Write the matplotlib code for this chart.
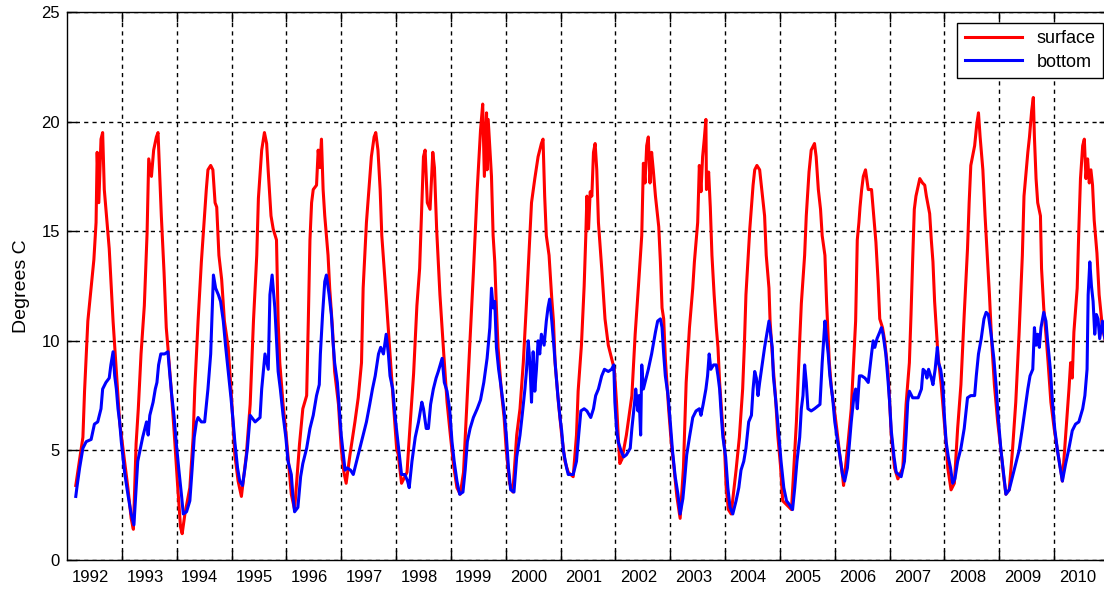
import matplotlib
matplotlib.use("Agg")
import matplotlib.pyplot as plt
from matplotlib.ticker import FixedLocator, NullFormatter

# surface temperature (decimal year, deg C)
surface_t = [
    1992.16, 1992.29, 1992.32, 1992.38, 1992.44, 1992.49, 1992.53, 1992.55, 1992.58, 1992.62,
    1992.65, 1992.68, 1992.73, 1992.77, 1992.80, 1992.84, 1992.90, 1992.96, 1993.02, 1993.11,
    1993.17, 1993.21, 1993.26, 1993.30, 1993.35, 1993.41, 1993.46, 1993.49, 1993.54, 1993.58,
    1993.63, 1993.66, 1993.72, 1993.77, 1993.81, 1993.84, 1993.90, 1993.96, 1994.02, 1994.07,
    1994.10, 1994.15, 1994.24, 1994.30, 1994.33, 1994.39, 1994.45, 1994.50, 1994.54, 1994.57,
    1994.62, 1994.66, 1994.70, 1994.73, 1994.77, 1994.82, 1994.87, 1994.94, 1995.00, 1995.06,
    1995.12, 1995.18, 1995.27, 1995.34, 1995.40, 1995.46, 1995.49, 1995.55, 1995.60, 1995.64,
    1995.67, 1995.72, 1995.76, 1995.82, 1995.85, 1995.88, 1995.94, 1996.00, 1996.06, 1996.09,
    1996.15, 1996.24, 1996.30, 1996.37, 1996.40, 1996.43, 1996.46, 1996.49, 1996.55, 1996.58,
    1996.61, 1996.64, 1996.67, 1996.70, 1996.76, 1996.79, 1996.84, 1996.88, 1996.95, 1997.00,
    1997.05, 1997.09, 1997.16, 1997.25, 1997.31, 1997.37, 1997.40, 1997.46, 1997.51, 1997.55,
    1997.60, 1997.63, 1997.67, 1997.71, 1997.74, 1997.80, 1997.84, 1997.89, 1997.95, 1998.01,
    1998.04, 1998.10, 1998.20, 1998.26, 1998.32, 1998.38, 1998.43, 1998.47, 1998.50, 1998.53,
    1998.57, 1998.62, 1998.67, 1998.70, 1998.74, 1998.80, 1998.87, 1998.93, 1998.99, 1999.05,
    1999.11, 1999.17, 1999.23, 1999.29, 1999.35, 1999.41, 1999.48, 1999.54, 1999.58, 1999.61,
    1999.65, 1999.66, 1999.68, 1999.74, 1999.77, 1999.80, 1999.83, 1999.86, 1999.92, 1999.97,
    2000.01, 2000.07, 2000.13, 2000.20, 2000.26, 2000.32, 2000.38, 2000.41, 2000.47, 2000.53,
    2000.59, 2000.65, 2000.68, 2000.71, 2000.74, 2000.79, 2000.84, 2000.87, 2000.90, 2000.96,
    2001.02, 2001.08, 2001.14, 2001.23, 2001.29, 2001.32, 2001.38, 2001.43, 2001.46, 2001.48,
    2001.51, 2001.54, 2001.57, 2001.60, 2001.63, 2001.66, 2001.69, 2001.75, 2001.81, 2001.87,
    2001.93, 2001.98, 2002.02, 2002.05, 2002.08, 2002.12, 2002.20, 2002.30, 2002.36, 2002.42,
    2002.48, 2002.51, 2002.54, 2002.57, 2002.60, 2002.63, 2002.66, 2002.69, 2002.73, 2002.79,
    2002.82, 2002.85, 2002.88, 2002.91, 2002.97, 2003.02, 2003.06, 2003.12, 2003.18, 2003.24,
    2003.29, 2003.35, 2003.41, 2003.44, 2003.50, 2003.53, 2003.56, 2003.59, 2003.62, 2003.65,
    2003.66, 2003.70, 2003.73, 2003.76, 2003.80, 2003.84, 2003.87, 2003.90, 2003.95, 2003.99,
    2004.02, 2004.06, 2004.11, 2004.20, 2004.26, 2004.32, 2004.35, 2004.38, 2004.45, 2004.48,
    2004.51, 2004.54, 2004.58, 2004.63, 2004.66, 2004.72, 2004.75, 2004.80, 2004.82, 2004.87,
    2004.92, 2004.96, 2005.01, 2005.05, 2005.13, 2005.21, 2005.24, 2005.30, 2005.36, 2005.39,
    2005.45, 2005.48, 2005.53, 2005.57, 2005.63, 2005.66, 2005.70, 2005.74, 2005.77, 2005.82,
    2005.85, 2005.90, 2005.94, 2005.98, 2006.04, 2006.09, 2006.14, 2006.16, 2006.24, 2006.30,
    2006.35, 2006.38, 2006.41, 2006.44, 2006.46, 2006.49, 2006.52, 2006.56, 2006.61, 2006.67,
    2006.71, 2006.75, 2006.79, 2006.82, 2006.87, 2006.91, 2006.97, 2007.00, 2007.03, 2007.09,
    2007.15, 2007.24, 2007.30, 2007.36, 2007.39, 2007.42, 2007.45, 2007.48, 2007.55, 2007.60,
    2007.64, 2007.67, 2007.73, 2007.76, 2007.79, 2007.82, 2007.85, 2007.88, 2007.94, 2007.99,
    2008.03, 2008.06, 2008.12, 2008.18, 2008.24, 2008.30, 2008.36, 2008.42, 2008.45, 2008.48,
    2008.55, 2008.59, 2008.62, 2008.65, 2008.70, 2008.74, 2008.78, 2008.82, 2008.86, 2008.91,
    2008.97, 2009.03, 2009.08, 2009.12, 2009.18, 2009.24, 2009.30, 2009.36, 2009.42, 2009.45,
    2009.52, 2009.55, 2009.59, 2009.62, 2009.64, 2009.67, 2009.70, 2009.75, 2009.77, 2009.81,
    2009.85, 2009.89, 2009.94, 2010.00, 2010.06, 2010.12, 2010.15, 2010.21, 2010.27, 2010.30,
    2010.33, 2010.36, 2010.42, 2010.45, 2010.48, 2010.52, 2010.55, 2010.58, 2010.61, 2010.64,
    2010.67, 2010.70, 2010.73, 2010.78, 2010.82, 2010.88, 2010.95,
]
surface_deg = [
    3.4, 5.6, 7.7, 10.9, 12.4, 13.7, 15.4, 18.6, 16.3, 19.2,
    19.5, 16.9, 15.4, 14.2, 12.8, 10.9, 8.6, 6.3, 5.1, 3.3,
    1.9, 1.4, 5.3, 6.9, 9.4, 11.6, 14.9, 18.3, 17.5, 18.7,
    19.3, 19.5, 15.7, 13.1, 10.6, 9.7, 7.8, 5.6, 3.3, 1.5,
    1.2, 2.1, 3.3, 5.6, 7.8, 10.9, 13.6, 15.4, 16.9, 17.8,
    18.0, 17.8, 16.3, 16.1, 13.9, 12.8, 10.9, 9.7, 7.4, 4.8,
    3.6, 2.9, 4.8, 7.1, 10.9, 13.9, 16.5, 18.7, 19.5, 19.0,
    17.7, 15.7, 15.1, 14.6, 10.9, 9.0, 7.1, 5.6, 3.9, 3.0,
    2.3, 5.3, 6.9, 7.5, 10.9, 14.6, 16.3, 16.9, 17.1, 18.7,
    17.9, 19.2, 16.9, 15.7, 13.9, 12.4, 10.6, 8.6, 7.1, 5.1,
    4.0, 3.5, 4.8, 6.3, 7.4, 9.0, 12.4, 15.4, 17.1, 18.4,
    19.3, 19.5, 18.7, 16.9, 14.8, 12.7, 11.2, 9.4, 7.2, 5.1,
    4.8, 3.5, 4.0, 6.3, 8.5, 11.6, 13.3, 16.3, 18.4, 18.7,
    16.3, 16.0, 18.6, 17.9, 15.1, 12.1, 9.4, 7.2, 5.7, 4.3,
    3.3, 3.0, 4.0, 7.1, 10.1, 13.1, 16.9, 19.6, 20.8, 17.5,
    20.4, 17.8, 20.1, 17.5, 14.8, 13.6, 11.5, 9.7, 7.7, 6.5,
    5.0, 3.5, 3.1, 5.7, 6.9, 9.0, 11.8, 13.3, 16.3, 17.4,
    18.4, 19.0, 19.2, 16.6, 14.8, 13.9, 11.9, 10.9, 9.0, 7.2,
    5.7, 4.5, 4.0, 3.8, 5.7, 7.7, 9.8, 12.5, 14.8, 16.6,
    15.1, 16.8, 16.6, 18.6, 19.0, 17.8, 15.4, 13.3, 11.0, 9.8,
    9.2, 8.7, 7.2, 5.7, 4.4, 4.6, 5.7, 7.5, 10.3, 12.5,
    14.8, 18.1, 17.2, 18.9, 19.3, 17.2, 18.6, 17.8, 16.6, 15.2,
    13.6, 11.5, 11.0, 9.2, 6.9, 5.3, 4.4, 2.9, 1.9, 4.2,
    8.1, 10.6, 12.4, 13.6, 15.4, 18.0, 16.8, 18.4, 19.2, 20.1,
    16.9, 17.7, 16.1, 13.9, 12.1, 10.6, 9.7, 8.1, 6.3, 5.1,
    3.3, 2.3, 2.1, 4.1, 5.6, 7.8, 9.7, 12.1, 15.1, 16.1,
    17.1, 17.8, 18.0, 17.8, 17.1, 15.7, 13.9, 12.4, 10.9, 9.0,
    7.4, 5.7, 4.3, 2.7, 2.5, 2.3, 3.6, 6.3, 10.0, 11.7,
    13.9, 15.7, 17.7, 18.7, 19.0, 18.4, 16.9, 16.0, 14.8, 13.9,
    11.8, 9.0, 7.8, 7.1, 5.9, 4.8, 3.9, 3.4, 5.3, 6.9,
    9.4, 10.9, 14.6, 15.4, 16.1, 16.9, 17.5, 17.8, 16.9, 16.9,
    15.7, 14.5, 12.7, 11.0, 10.6, 10.0, 8.6, 7.2, 5.7, 4.2,
    3.7, 4.2, 7.1, 9.0, 11.2, 13.7, 16.0, 16.6, 17.4, 17.2,
    17.1, 16.6, 15.8, 14.6, 13.6, 11.8, 10.6, 9.4, 8.0, 6.5,
    5.3, 4.2, 3.2, 3.5, 6.0, 8.0, 11.2, 14.2, 16.3, 18.0,
    18.9, 19.9, 20.4, 19.3, 17.8, 15.7, 13.9, 12.1, 10.0, 8.0,
    6.3, 5.0, 3.8, 3.0, 3.2, 5.0, 7.2, 10.3, 13.9, 16.6,
    18.6, 19.3, 20.5, 21.1, 19.3, 17.4, 16.3, 15.7, 13.3, 11.5,
    10.3, 9.0, 7.2, 6.0, 5.0, 4.1, 3.6, 5.7, 7.8, 9.0,
    8.3, 10.4, 12.4, 15.1, 17.4, 18.9, 19.2, 17.4, 18.3, 17.2,
    17.8, 17.1, 15.5, 14.0, 12.1, 10.6, 9.8,
]

# bottom temperature
bottom_t = [
    1992.16, 1992.18, 1992.23, 1992.29, 1992.35, 1992.44, 1992.50, 1992.56, 1992.62, 1992.65,
    1992.71, 1992.77, 1992.80, 1992.84, 1992.87, 1992.90, 1992.93, 1992.96, 1992.99, 1993.05,
    1993.11, 1993.17, 1993.22, 1993.26, 1993.29, 1993.34, 1993.38, 1993.45, 1993.48, 1993.51,
    1993.57, 1993.61, 1993.64, 1993.67, 1993.71, 1993.78, 1993.84, 1993.87, 1993.91, 1993.95,
    1993.99, 1994.04, 1994.09, 1994.12, 1994.18, 1994.24, 1994.28, 1994.32, 1994.36, 1994.39,
    1994.45, 1994.51, 1994.57, 1994.62, 1994.65, 1994.67, 1994.71, 1994.76, 1994.80, 1994.85,
    1994.89, 1994.94, 1994.99, 1995.03, 1995.06, 1995.11, 1995.15, 1995.20, 1995.24, 1995.29,
    1995.34, 1995.43, 1995.52, 1995.55, 1995.61, 1995.67, 1995.70, 1995.74, 1995.79, 1995.82,
    1995.85, 1995.89, 1995.94, 1995.99, 1996.03, 1996.09, 1996.12, 1996.15, 1996.21, 1996.26,
    1996.30, 1996.37, 1996.43, 1996.49, 1996.55, 1996.60, 1996.62, 1996.66, 1996.70, 1996.73,
    1996.78, 1996.82, 1996.85, 1996.88, 1996.93, 1996.96, 1997.00, 1997.04, 1997.07, 1997.11,
    1997.17, 1997.22, 1997.28, 1997.34, 1997.40, 1997.46, 1997.52, 1997.57, 1997.62, 1997.68,
    1997.72, 1997.77, 1997.82, 1997.86, 1997.89, 1997.94, 1997.98, 1998.02, 1998.06, 1998.10,
    1998.16, 1998.21, 1998.24, 1998.29, 1998.35, 1998.41, 1998.47, 1998.50, 1998.55, 1998.59,
    1998.63, 1998.68, 1998.73, 1998.77, 1998.84, 1998.88, 1998.93, 1998.98, 1999.02, 1999.06,
    1999.11, 1999.16, 1999.22, 1999.26, 1999.30, 1999.35, 1999.41, 1999.48, 1999.54, 1999.60,
    1999.66, 1999.71, 1999.74, 1999.77, 1999.80, 1999.83, 1999.87, 1999.92, 1999.97, 2000.01,
    2000.05, 2000.09, 2000.15, 2000.20, 2000.26, 2000.30, 2000.35, 2000.38, 2000.41, 2000.44,
    2000.47, 2000.50, 2000.53, 2000.56, 2000.59, 2000.62, 2000.65, 2000.70, 2000.74, 2000.77,
    2000.80, 2000.84, 2000.87, 2000.91, 2000.95, 2000.99, 2001.02, 2001.05, 2001.11, 2001.14,
    2001.23, 2001.29, 2001.33, 2001.37, 2001.43, 2001.48, 2001.55, 2001.60, 2001.64, 2001.69,
    2001.75, 2001.80, 2001.87, 2001.93, 2001.97, 2001.99, 2002.02, 2002.05, 2002.10, 2002.15,
    2002.20, 2002.27, 2002.30, 2002.35, 2002.37, 2002.41, 2002.43, 2002.46, 2002.48, 2002.51,
    2002.54, 2002.60, 2002.66, 2002.73, 2002.77, 2002.82, 2002.85, 2002.88, 2002.91, 2002.96,
    2003.00, 2003.04, 2003.09, 2003.14, 2003.18, 2003.23, 2003.26, 2003.30, 2003.35, 2003.41,
    2003.47, 2003.53, 2003.56, 2003.60, 2003.65, 2003.68, 2003.71, 2003.74, 2003.79, 2003.84,
    2003.87, 2003.90, 2003.93, 2003.96, 2004.01, 2004.05, 2004.09, 2004.14, 2004.20, 2004.25,
    2004.29, 2004.34, 2004.38, 2004.43, 2004.48, 2004.51, 2004.54, 2004.57, 2004.60, 2004.63,
    2004.68, 2004.72, 2004.76, 2004.80, 2004.83, 2004.86, 2004.88, 2004.93, 2004.98, 2005.02,
    2005.07, 2005.12, 2005.18, 2005.23, 2005.27, 2005.31, 2005.36, 2005.39, 2005.42, 2005.45,
    2005.48, 2005.51, 2005.57, 2005.63, 2005.73, 2005.77, 2005.82, 2005.85, 2005.88, 2005.91,
    2005.96, 2006.00, 2006.04, 2006.09, 2006.14, 2006.18, 2006.23, 2006.26, 2006.30, 2006.35,
    2006.38, 2006.41, 2006.45, 2006.49, 2006.55, 2006.61, 2006.67, 2006.70, 2006.73, 2006.77,
    2006.82, 2006.85, 2006.88, 2006.93, 2006.97, 2007.00, 2007.03, 2007.08, 2007.12, 2007.21,
    2007.27, 2007.30, 2007.33, 2007.36, 2007.42, 2007.52, 2007.58, 2007.61, 2007.65, 2007.68,
    2007.71, 2007.76, 2007.79, 2007.83, 2007.87, 2007.89, 2007.93, 2007.97, 2008.00, 2008.03,
    2008.07, 2008.11, 2008.15, 2008.19, 2008.24, 2008.30, 2008.36, 2008.42, 2008.48, 2008.55,
    2008.58, 2008.62, 2008.67, 2008.72, 2008.76, 2008.80, 2008.85, 2008.90, 2008.94, 2008.98,
    2009.03, 2009.08, 2009.12, 2009.18, 2009.24, 2009.30, 2009.36, 2009.42, 2009.47, 2009.52,
    2009.56, 2009.61, 2009.64, 2009.67, 2009.70, 2009.73, 2009.76, 2009.81, 2009.85, 2009.88,
    2009.93, 2009.97, 2010.01, 2010.06, 2010.11, 2010.15, 2010.21, 2010.27, 2010.33, 2010.39,
    2010.45, 2010.52, 2010.56, 2010.60, 2010.62, 2010.65, 2010.68, 2010.71, 2010.74, 2010.77,
    2010.80, 2010.83, 2010.88, 2010.91, 2010.95,
]
bottom_deg = [
    2.9, 3.3, 4.2, 5.1, 5.4, 5.5, 6.2, 6.3, 6.9, 7.8,
    8.1, 8.3, 8.9, 9.5, 8.4, 7.8, 6.9, 6.3, 5.4, 4.0,
    3.0, 2.1, 1.6, 3.3, 4.5, 5.1, 5.6, 6.3, 5.7, 6.6,
    7.2, 7.8, 8.1, 8.9, 9.4, 9.4, 9.5, 8.6, 7.5, 6.6,
    5.4, 4.1, 2.9, 2.1, 2.2, 2.7, 4.1, 5.6, 6.3, 6.5,
    6.3, 6.3, 7.8, 9.4, 11.6, 13.0, 12.4, 12.1, 11.8, 10.9,
    9.8, 8.6, 7.4, 6.3, 5.4, 4.2, 3.6, 3.4, 4.1, 5.1,
    6.6, 6.3, 6.5, 7.8, 9.4, 8.7, 12.1, 13.0, 11.5, 10.0,
    8.6, 7.8, 6.6, 5.6, 4.5, 3.9, 2.9, 2.2, 2.4, 3.8,
    4.4, 5.1, 6.0, 6.6, 7.5, 8.0, 9.4, 11.2, 12.7, 13.0,
    12.1, 11.2, 10.0, 9.0, 8.1, 7.1, 5.7, 4.8, 4.1, 4.2,
    4.1, 3.9, 4.5, 5.1, 5.7, 6.3, 7.1, 7.8, 8.4, 9.4,
    9.7, 9.4, 10.3, 9.4, 8.4, 7.8, 6.6, 5.7, 4.8, 3.9,
    3.9, 3.6, 3.3, 4.5, 5.6, 6.3, 7.2, 6.9, 6.0, 6.0,
    7.1, 7.8, 8.3, 8.6, 9.2, 8.1, 7.7, 6.8, 5.4, 4.5,
    3.6, 3.0, 3.1, 4.1, 5.4, 6.0, 6.5, 6.9, 7.3, 8.1,
    9.2, 10.6, 12.4, 11.5, 11.8, 9.7, 8.7, 7.8, 6.8, 5.7,
    4.2, 3.2, 3.1, 4.7, 5.7, 6.6, 7.8, 8.7, 10.0, 9.0,
    7.2, 9.5, 7.7, 8.7, 10.0, 9.4, 10.3, 9.8, 10.9, 11.5,
    11.9, 10.9, 10.0, 8.7, 7.5, 6.5, 5.9, 5.0, 4.2, 3.9,
    3.9, 4.5, 5.7, 6.8, 6.9, 6.8, 6.5, 6.9, 7.5, 7.8,
    8.4, 8.7, 8.6, 8.7, 8.9, 7.2, 6.0, 5.4, 5.0, 4.7,
    4.8, 5.1, 6.0, 7.2, 7.8, 6.8, 7.5, 5.7, 8.9, 7.8,
    8.1, 8.7, 9.4, 10.4, 10.9, 11.0, 10.6, 9.4, 8.4, 7.5,
    6.3, 5.0, 3.8, 3.0, 2.1, 2.8, 3.6, 4.8, 5.6, 6.5,
    6.8, 6.9, 6.6, 7.1, 7.8, 8.4, 9.4, 8.7, 8.9, 8.9,
    8.4, 7.8, 6.6, 5.6, 4.7, 3.3, 2.4, 2.1, 2.7, 3.3,
    4.1, 4.5, 5.1, 6.3, 6.6, 7.8, 8.6, 8.3, 7.5, 8.1,
    9.0, 9.7, 10.3, 10.9, 10.3, 9.7, 8.4, 7.1, 5.7, 4.5,
    3.3, 2.7, 2.5, 2.3, 3.3, 4.5, 5.6, 6.9, 7.5, 8.9,
    8.1, 6.9, 6.8, 6.9, 7.1, 9.0, 10.9, 10.1, 9.4, 8.4,
    7.4, 6.3, 5.6, 4.8, 3.9, 3.6, 4.2, 5.1, 6.3, 7.5,
    7.8, 6.9, 8.4, 8.4, 8.3, 8.1, 9.4, 10.0, 9.7, 10.1,
    10.4, 10.6, 10.3, 9.4, 8.2, 7.2, 5.9, 4.7, 4.0, 3.8,
    4.5, 5.7, 7.2, 7.7, 7.4, 7.4, 7.8, 8.7, 8.6, 8.3,
    8.7, 8.3, 8.0, 8.7, 9.7, 9.0, 8.7, 8.0, 6.5, 5.4,
    4.7, 4.2, 3.5, 3.7, 4.5, 5.1, 6.0, 7.4, 7.5, 7.5,
    8.4, 9.4, 10.1, 11.0, 11.3, 11.2, 10.3, 9.2, 8.0, 6.5,
    5.0, 3.9, 3.0, 3.2, 3.8, 4.4, 5.0, 6.0, 6.9, 7.8,
    8.4, 8.7, 10.6, 9.8, 10.3, 9.7, 10.6, 11.3, 10.9, 10.0,
    8.7, 7.2, 6.0, 5.0, 4.2, 3.6, 4.4, 5.1, 5.9, 6.2,
    6.3, 6.9, 7.5, 8.7, 12.1, 13.6, 12.5, 11.8, 10.3, 11.2,
    11.0, 10.1, 10.9, 10.3, 9.8,
]

years = list(range(1992, 2011))
year_labels = [str(y) for y in years]

plt.rcParams['font.family'] = ['Liberation Sans', 'DejaVu Sans']

fig = plt.figure(figsize=(11.04, 5.90), dpi=100)
ax = fig.add_axes([67 / 1104, 1 - 560 / 590, (1109 - 67) / 1104, (560 - 12) / 590])

ax.plot(surface_t, surface_deg, color='red', lw=2.2, label='surface')
ax.plot(bottom_t, bottom_deg, color='blue', lw=2.2, label='bottom')

ax.set_xlim(1992, 2011)
ax.set_ylim(0, 25)

# gridlines / ticks at year boundaries, labels roughly mid-year
ax.xaxis.set_major_locator(FixedLocator(years[1:]))
ax.xaxis.set_major_formatter(NullFormatter())
ax.xaxis.set_minor_locator(FixedLocator([y + 0.42 for y in years]))
ax.set_xticklabels(year_labels, minor=True)
ax.set_yticks([0, 5, 10, 15, 20, 25])

ax.tick_params(axis='both', which='major', direction='in', length=7, width=1,
               top=True, right=True, labelsize=12, pad=5)
ax.tick_params(axis='x', which='minor', length=0, labelsize=12, pad=7)

ax.grid(True, which='major', color='black', linestyle=(0, (3, 3)), linewidth=1.0)
for s in ax.spines.values():
    s.set_linewidth(1.0)
    s.set_color('black')

ax.set_ylabel('Degrees C', fontsize=14, labelpad=8)

leg = ax.legend(loc='upper right', bbox_to_anchor=(1103 / 1104, 1 - 23 / 590),
                bbox_transform=fig.transFigure, borderaxespad=0, fancybox=False,
                framealpha=1, edgecolor='black', fontsize=13, handlelength=3.2,
                labelspacing=0.35)
leg.get_frame().set_linewidth(1.0)

fig.savefig('out.png', dpi=100)
